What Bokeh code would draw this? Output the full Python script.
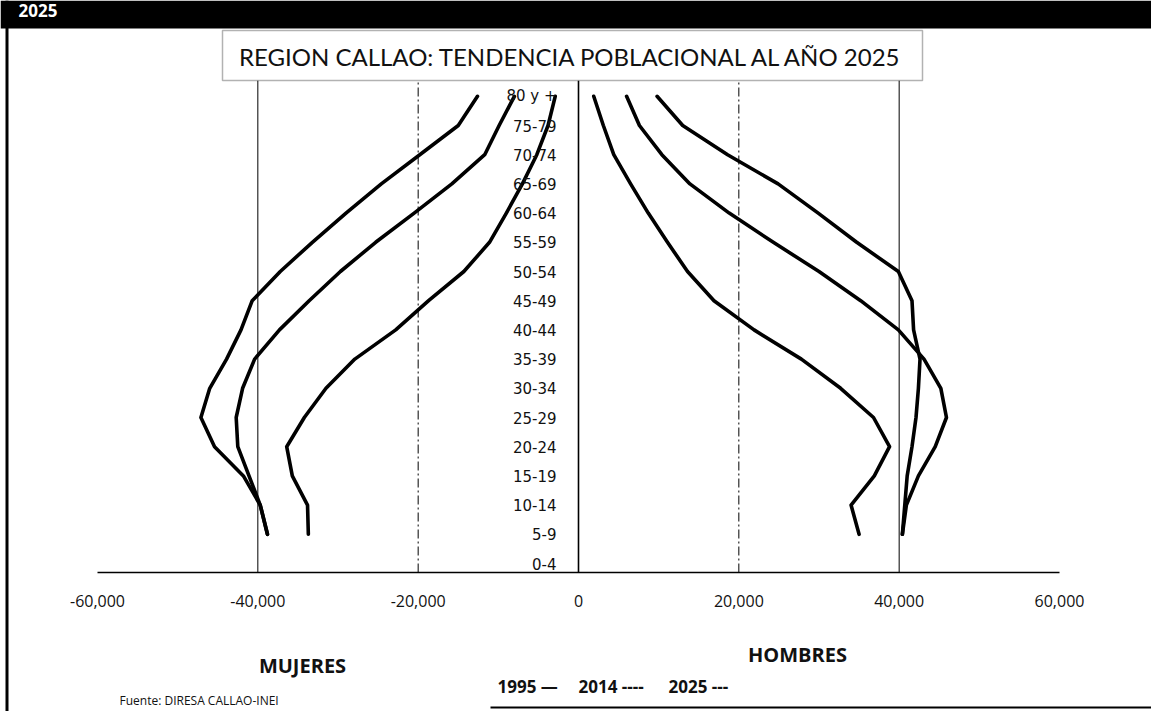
from bokeh.plotting import figure
from bokeh.models import Range1d, Label, BoxAnnotation, FixedTicker, NumeralTickFormatter
from bokeh.core.properties import value
from bokeh.embed import file_html
from bokeh.resources import INLINE

# ---------------- data ----------------
age_groups = ["0-4", "5-9", "10-14", "15-19", "20-24", "25-29", "30-34", "35-39",
              "40-44", "45-49", "50-54", "55-59", "60-64", "65-69", "70-74",
              "75-79", "80 y +"]
# series are drawn from 5-9 up to 80 y +
plotted_ages = age_groups[1:]

mujeres_1995 = [-33700, -33800, -35700, -36400, -34200, -31500, -27900, -22800,
                -18700, -14300, -11100, -9000, -7000, -5200, -3800, -2900]
mujeres_2014 = [-38800, -39700, -41100, -42500, -42700, -41900, -40400, -37300,
                -33600, -29700, -25300, -20500, -15800, -11700, -9900, -8000]
mujeres_2025 = [-38800, -39700, -41800, -45400, -47100, -46000, -43900, -42100,
                -40700, -37200, -33200, -29000, -24600, -19800, -15000, -12600]

hombres_1995 = [35000, 34000, 36900, 38800, 36800, 32700, 27800, 21900,
                16900, 13600, 11100, 8700, 6500, 4400, 3100, 1900]
hombres_2014 = [40400, 40900, 42400, 44500, 45900, 45200, 43100, 39900,
                35200, 30000, 24300, 18800, 13900, 10400, 7600, 6000]
hombres_2025 = [40400, 40700, 41000, 41600, 42100, 42400, 42600, 41800,
                41600, 39900, 34700, 29900, 24900, 18600, 13000, 9800]

x_ticks = [-60000, -40000, -20000, 0, 20000, 40000, 60000]
solid_grid = [-40000, 0, 40000]
dashed_grid = [-20000, 20000]

title_text = "REGION CALLAO: TENDENCIA POBLACIONAL AL AÑO 2025"
legend_items = ["1995 —", "2014 ----", "2025 ---"]

# ---------------- layout ----------------
W, H = 1151, 711
fx0, fx1 = 97, 1059          # canvas x of -60,000 and 60,000
row0_y, row_h = 563, 29.2    # canvas y of the "0-4" row and row spacing
axis_y = 572                 # canvas y of the x axis line
top_y = 80                   # canvas y where the grid lines start

sx = (x_ticks[-1] - x_ticks[0]) / (fx1 - fx0)
x_start = x_ticks[0] - fx0 * sx
x_end = x_ticks[-1] + (W - fx1) * sx
y_start = (row0_y - H) / row_h
y_end = row0_y / row_h
axis_val = (row0_y - axis_y) / row_h
top_val = (row0_y - top_y) / row_h

p = figure(width=W, height=H, output_backend="svg", toolbar_location=None,
           x_range=Range1d(x_start, x_end), y_range=Range1d(y_start, y_end),
           y_axis_location=None,
           min_border_left=0, min_border_right=0, min_border_top=0,
           min_border_bottom=0)
p.outline_line_color = None
p.xgrid.grid_line_color = None
p.ygrid.grid_line_color = None
p.background_fill_color = "white"
p.border_fill_color = "white"

# vertical reference lines at the tick positions
p.segment(x0=solid_grid, y0=[axis_val] * 3, x1=solid_grid, y1=[top_val] * 3,
          line_color="black", line_width=[1, 1.6, 1])
p.segment(x0=dashed_grid, y0=[axis_val] * 2, x1=dashed_grid, y1=[top_val] * 2,
          line_color="black", line_width=1, line_dash="9 3 2 3")

y_idx = [age_groups.index(a) for a in plotted_ages]
for series in [mujeres_1995, mujeres_2014, mujeres_2025,
               hombres_1995, hombres_2014, hombres_2025]:
    p.line(x=series, y=y_idx, line_color="black", line_width=3.6,
           line_join="round", line_cap="round")

p.text(x=[0] * len(age_groups), y=list(range(len(age_groups))), text=age_groups,
       text_align="right", text_baseline="middle", x_offset=-22,
       text_font=value("DejaVu Sans"), text_font_size="15px", text_color="#111111")

ax = p.xaxis[0]
ax.fixed_location = axis_val
ax.bounds = (x_ticks[0], x_ticks[-1])
ax.ticker = FixedTicker(ticks=x_ticks)
ax.formatter = NumeralTickFormatter(format="0,0")
ax.major_tick_line_color = None
ax.minor_tick_line_color = None
ax.axis_line_color = "black"
ax.axis_line_width = 1.5
ax.major_label_text_font = "Open Sans"
ax.major_label_text_font_size = "16px"
ax.major_label_text_color = "#111111"
ax.major_label_standoff = 16

# frame decorations (canvas units)
def add_box(l, r, t, b, fill, line=None, lw=1):
    p.add_layout(BoxAnnotation(left=l, right=r, top=t, bottom=b,
                               left_units="canvas", right_units="canvas",
                               top_units="canvas", bottom_units="canvas",
                               fill_color=fill, fill_alpha=1,
                               line_color=line, line_width=lw))

add_box(W - 4, W, 28, 706, "white")
add_box(0, W, 0, 28, "black")
add_box(5, 8, 0, H, "black")
add_box(490, W, 706, 708, "black")
add_box(222, 922, 30, 80, "white", line="black", lw=1.5)

def add_label(text, x, y, size, bold=False, align="left", color="#111111",
              font="Open Sans", baseline="middle"):
    p.add_layout(Label(x=x, y=y, x_units="canvas", y_units="canvas", text=text,
                       text_font=font, text_font_size=size,
                       text_font_style="bold" if bold else "normal",
                       text_align=align, text_baseline=baseline,
                       text_color=color))

add_label("2025", 18, 10, "17px", bold=True, color="white")
add_label(title_text, 571, 56, "24px", align="center", font="Lato")
add_label("MUJERES", 302, 665, "20px", bold=True, align="center")
add_label("HOMBRES", 797, 654, "20px", bold=True, align="center")
for txt, xx in zip(legend_items, [497, 578, 668]):
    add_label(txt, xx, 686, "17px", bold=True)
add_label("Fuente: DIRESA CALLAO-INEI", 119, 700, "12px")

open("out.html", "w").write(file_html(p, INLINE))
